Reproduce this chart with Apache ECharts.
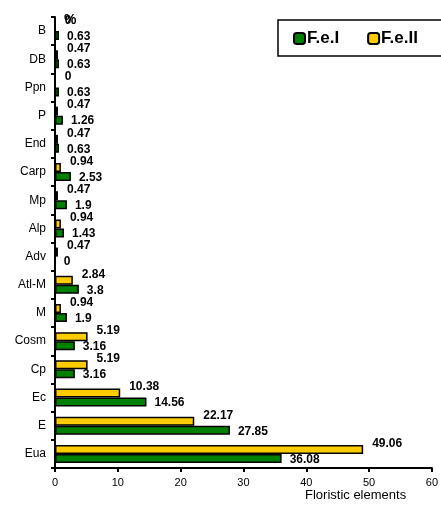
<!DOCTYPE html>
<html>
<head>
<meta charset="utf-8">
<script src="https://cdn.jsdelivr.net/npm/echarts@6/dist/echarts.min.js"></script>
<style>
html, body { margin: 0; padding: 0; background: #fff; }
#chart { width: 441px; height: 506px; }
</style>
</head>
<body>
<div id="chart"></div>
<script>
// categories, bottom to top
var categories = ['Eua', 'E', 'Ec', 'Cp', 'Cosm', 'M', 'Atl-M', 'Adv', 'Alp', 'Mp', 'Carp', 'End', 'P', 'Ppn', 'DB', 'B'];
var feI  = [36.08, 27.85, 14.56, 3.16, 3.16, 1.9, 3.8, 0, 1.43, 1.9, 2.53, 0.63, 1.26, 0.63, 0.63, 0.63];
var feII = [49.06, 22.17, 10.38, 5.19, 5.19, 0.94, 2.84, 0.47, 0.94, 0.47, 0.94, 0.47, 0.47, 0, 0.47, 0];
var xTicks = [0, 10, 20, 30, 40, 50, 60];

var chart = echarts.init(document.getElementById('chart'));

var labelStyle = {
    show: true,
    position: 'right',
    color: '#000',
    fontFamily: 'Arial, "Liberation Sans", sans-serif',
    fontWeight: 'bold',
    fontSize: 12
};

var option = {
    animation: false,
    grid: { left: 55, right: 3, top: 17, bottom: 38 },
    legend: {
        data: ['F.e.I', 'F.e.II'],
        left: 278,
        top: 20,
        width: 200,
        orient: 'horizontal',
        itemWidth: 11,
        itemHeight: 11,
        itemGap: 28,
        padding: [10, 60, 9, 15],
        borderColor: '#000',
        borderWidth: 1.5,
        borderRadius: 0,
        textStyle: {
            color: '#000',
            fontFamily: 'Arial, "Liberation Sans", sans-serif',
            fontWeight: 'bold',
            fontSize: 17,
            padding: [0, 0, 0, -3]
        }
    },
    xAxis: {
        type: 'value',
        min: xTicks[0],
        max: xTicks[xTicks.length - 1],
        interval: 10,
        splitLine: { show: false },
        axisLine: { show: true, lineStyle: { color: '#000', width: 2 } },
        axisTick: { show: true, length: 4, lineStyle: { color: '#000', width: 2 } },
        axisLabel: {
            color: '#000',
            fontFamily: 'Arial, "Liberation Sans", sans-serif',
            fontSize: 11,
            margin: 9
        }
    },
    yAxis: {
        type: 'category',
        data: categories,
        axisLine: { show: true, lineStyle: { color: '#000', width: 2 } },
        axisTick: { show: true, length: 4, inside: false, lineStyle: { color: '#000', width: 2 } },
        axisLabel: {
            color: '#000',
            fontFamily: 'Arial, "Liberation Sans", sans-serif',
            fontSize: 12,
            margin: 9
        }
    },
    graphic: [
        {
            type: 'text', left: 64, top: 13,
            style: { text: '%', fill: '#000', font: 'bold 14px Arial, "Liberation Sans", sans-serif' }
        },
        {
            type: 'text', left: 305, top: 489,
            style: { text: 'Floristic elements', fill: '#000', font: '13px Arial, "Liberation Sans", sans-serif' }
        }
    ],
    series: [
        {
            name: 'F.e.II',
            type: 'bar',
            data: feII,
            barGap: '0%',
            barCategoryGap: '36%',
            itemStyle: { color: '#ffcc00', borderColor: '#000', borderWidth: 1.5 },
            label: Object.assign({}, labelStyle, { offset: [4, -6] })
        },
        {
            name: 'F.e.I',
            type: 'bar',
            data: feI,
            barGap: '0%',
            barCategoryGap: '36%',
            itemStyle: { color: '#008000', borderColor: '#000', borderWidth: 1.5 },
            label: Object.assign({}, labelStyle, { offset: [3, 1] })
        }
    ]
};

chart.setOption(option);
</script>
</body>
</html>
